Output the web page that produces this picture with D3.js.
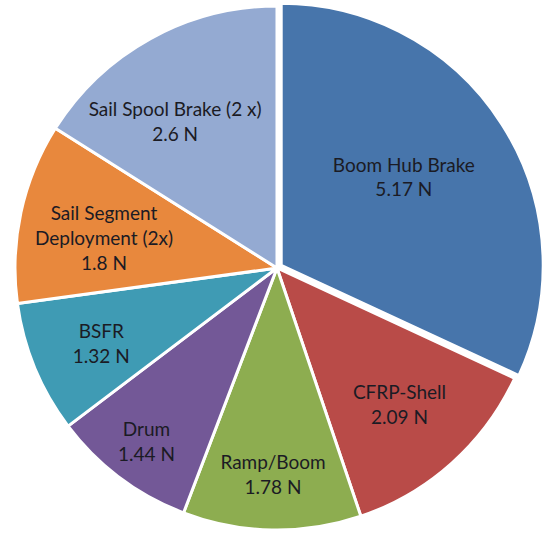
<!DOCTYPE html>
<html>
<head>
<meta charset="utf-8">
<script src="https://cdn.jsdelivr.net/npm/d3@7"></script>
<style>
  html, body { margin: 0; padding: 0; background: #fff; }
  svg { display: block; }
  text { font-family: Lato, "Open Sans", sans-serif; fill: #1b1b24; }
</style>
</head>
<body>
<svg id="chart" width="545" height="533"></svg>
<script>
// Force contributions per component (N)
const components = ["Boom Hub Brake", "CFRP-Shell", "Ramp/Boom", "Drum", "BSFR",
                    "Sail Segment Deployment (2x)", "Sail Spool Brake (2 x)"];
const forces = [5.17, 2.09, 1.78, 1.44, 1.32, 1.8, 2.6];
// Label lines as wrapped in each slice
const labelLines = [
  ["Boom Hub Brake"],
  ["CFRP-Shell"],
  ["Ramp/Boom"],
  ["Drum"],
  ["BSFR"],
  ["Sail Segment", "Deployment (2x)"],
  ["Sail Spool Brake (2 x)"]
];
const sliceColors = ["#4775ab", "#b94b48", "#8dad50", "#735897", "#3f9bb4", "#e8883d", "#94aad2"];

// Label placement: fraction of radius and angular nudge (degrees) from slice bisector
const labelRadius = [0.595, 0.70, 0.79, 0.83, 0.73, 0.67, 0.68];
const labelAngleShift = [-3, 0, 0, 0, -0.8, -2.5, -6];
// Slices pulled out from the centre (px)
const explode = [5, 0, 0, 0, 0, 0, 0];

const cx = 277, cy = 268, R = 262;
const svg = d3.select("#chart");
const g = svg.append("g").attr("transform", `translate(${cx},${cy})`);

const pie = d3.pie().sort(null).value(d => d.value);
const arcs = pie(components.map((c, i) => ({ name: c, value: forces[i], i })));
const arc = d3.arc().innerRadius(0).outerRadius(R);

g.selectAll("path.slice")
  .data(arcs)
  .join("path")
  .attr("class", "slice")
  .attr("d", arc)
  .attr("transform", d => {
    const a = (d.startAngle + d.endAngle) / 2;
    const e = explode[d.data.i];
    return `translate(${e * Math.sin(a)},${-e * Math.cos(a)})`;
  })
  .attr("fill", d => sliceColors[d.data.i])
  .attr("stroke", "#fff")
  .attr("stroke-width", 3)
  .attr("stroke-linejoin", "round");

const lineH = 25;
const labels = g.selectAll("g.label")
  .data(arcs)
  .join("g")
  .attr("class", "label")
  .attr("transform", d => {
    const i = d.data.i;
    const a = (d.startAngle + d.endAngle) / 2 + labelAngleShift[i] * Math.PI / 180;
    const r = R * labelRadius[i];
    return `translate(${r * Math.sin(a)},${-r * Math.cos(a)})`;
  });

labels.each(function(d) {
  const i = d.data.i;
  const lines = labelLines[i].concat([`${d.data.value} N`]);
  const t = d3.select(this).append("text")
    .attr("text-anchor", "middle")
    .attr("font-size", 19);
  const y0 = -(lines.length - 1) * lineH / 2;
  lines.forEach((l, k) => {
    t.append("tspan")
      .attr("x", 0)
      .attr("y", y0 + k * lineH)
      .attr("dy", "0.35em")
      .text(l);
  });
});
</script>
</body>
</html>
